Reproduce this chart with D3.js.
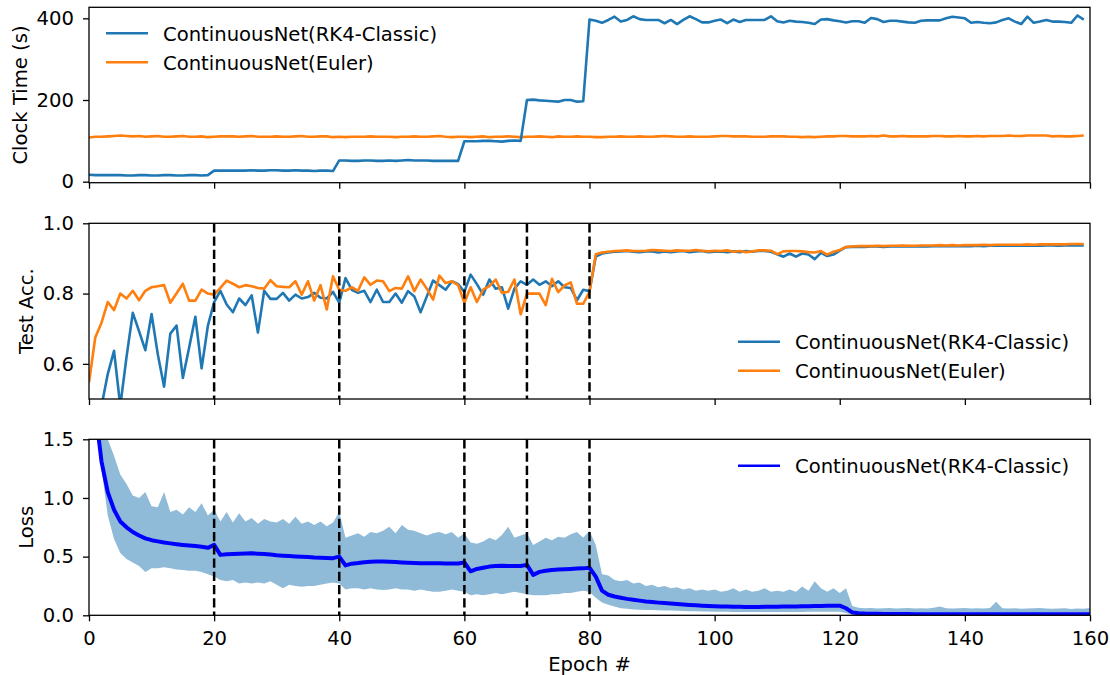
<!DOCTYPE html>
<html>
<head>
<meta charset="utf-8">
<script src="https://cdn.jsdelivr.net/npm/d3@7"></script>
<style>
  body { margin: 0; background: #fff; }
  svg text { font-family: "DejaVu Sans", sans-serif; fill: #000; }
</style>
</head>
<body>
<svg id="chart"></svg>
<script>
// ---- data ----
let epochs = d3.range(160);
let lossEpochs = d3.range(161);

let timeRK4 = [
  17,16,16,16,16,16,15,15,16,16, 15,15,16,16,15,15,16,16,15,16,
  27,27,27,27,27,27,28,27,27,28, 28,27,27,28,27,27,26,27,27,26,
  52,52,51,51,52,52,51,51,52,51, 52,53,52,52,52,51,51,51,51,51,
  99,99,99,100,100,99,98,100,101,100, 200,201,199,198,197,196,200,200,196,197,
  397,394,389,396,404,392,396,405,398,396, 396,396,388,396,386,396,405,398,390,390,
  394,397,388,397,391,396,396,396,396,405, 393,390,394,392,391,389,386,397,398,395,
  393,390,393,393,389,401,398,391,394,394, 392,390,389,394,395,395,395,400,404,402,
  400,389,391,389,388,390,396,400,392,386, 404,389,392,396,392,392,391,389,407,397
];
let timeEuler = [
  108,110,110,111,112,113,112,111,112,110, 111,112,110,110,111,112,110,110,111,109,
  110,111,111,111,110,111,112,110,110,110, 111,110,110,111,112,110,110,111,111,109,
  110,109,110,110,110,111,110,110,110,109, 110,110,111,110,110,111,112,110,109,110,
  110,109,110,111,109,110,110,111,110,109, 110,110,111,110,109,111,110,110,111,110,
  110,109,109,110,110,111,110,110,111,110, 110,111,112,111,110,110,111,110,110,110,
  111,112,112,111,111,111,110,110,110,111, 111,111,110,110,109,110,109,110,111,111,
  112,112,111,111,111,112,111,113,111,111, 112,111,111,111,111,112,112,111,111,112,
  111,111,112,111,112,112,112,113,112,112, 113,113,113,113,111,112,111,111,112,113
];

let accRK4 = [
  0.30,0.40,0.48,0.571,0.637,0.48,0.62,0.745,0.693,0.639,
  0.742,0.627,0.535,0.686,0.709,0.560,0.646,0.734,0.587,0.708,
  0.776,0.808,0.769,0.747,0.786,0.767,0.795,0.689,0.808,0.785,
  0.785,0.802,0.780,0.797,0.786,0.790,0.802,0.788,0.786,0.805,
  0.774,0.844,0.811,0.802,0.808,0.776,0.811,0.776,0.776,0.800,
  0.774,0.807,0.792,0.747,0.792,0.837,0.824,0.811,0.835,0.827,
  0.805,0.854,0.827,0.797,0.840,0.814,0.818,0.757,0.814,0.835,
  0.825,0.840,0.825,0.835,0.821,0.835,0.818,0.816,0.781,0.811,
  0.807,0.905,0.914,0.917,0.919,0.920,0.921,0.919,0.918,0.920,
  0.920,0.917,0.920,0.918,0.920,0.921,0.918,0.920,0.921,0.918,
  0.919,0.920,0.918,0.920,0.918,0.921,0.919,0.921,0.921,0.919,
  0.912,0.905,0.914,0.905,0.914,0.911,0.898,0.916,0.907,0.911,
  0.922,0.932,0.933,0.933,0.933,0.934,0.934,0.933,0.934,0.934,
  0.934,0.934,0.934,0.935,0.934,0.935,0.935,0.935,0.935,0.935,
  0.935,0.935,0.936,0.935,0.936,0.936,0.936,0.936,0.936,0.936,
  0.936,0.936,0.936,0.937,0.937,0.936,0.937,0.937,0.937,0.937
];
let accEuler = [
  0.547,0.675,0.717,0.776,0.753,0.800,0.786,0.808,0.781,0.808,
  0.818,0.821,0.824,0.774,0.801,0.828,0.780,0.780,0.811,0.800,
  0.797,0.816,0.837,0.828,0.818,0.824,0.821,0.816,0.814,0.838,
  0.821,0.819,0.818,0.835,0.797,0.835,0.780,0.824,0.755,0.849,
  0.811,0.808,0.818,0.808,0.846,0.825,0.837,0.835,0.807,0.816,
  0.814,0.849,0.807,0.840,0.814,0.783,0.851,0.830,0.835,0.824,
  0.774,0.818,0.776,0.811,0.821,0.840,0.802,0.805,0.840,0.741,
  0.800,0.800,0.800,0.767,0.842,0.804,0.823,0.832,0.771,0.771,
  0.805,0.912,0.917,0.919,0.921,0.922,0.923,0.921,0.921,0.922,
  0.924,0.923,0.922,0.921,0.923,0.922,0.922,0.924,0.922,0.920,
  0.922,0.921,0.923,0.919,0.921,0.918,0.920,0.923,0.923,0.922,
  0.912,0.920,0.921,0.921,0.920,0.918,0.917,0.921,0.911,0.919,
  0.924,0.933,0.934,0.935,0.935,0.935,0.936,0.935,0.936,0.936,
  0.937,0.936,0.936,0.937,0.937,0.937,0.938,0.937,0.938,0.937,
  0.938,0.938,0.938,0.939,0.938,0.939,0.939,0.939,0.939,0.939,
  0.940,0.939,0.940,0.940,0.940,0.940,0.940,0.941,0.941,0.941
];

let lossMean = [
  2.2,1.75,1.31,1.05,0.90,0.80,0.75,0.71,0.68,0.656,
  0.64,0.63,0.62,0.613,0.606,0.60,0.595,0.59,0.585,0.575,
  0.60,0.515,0.52,0.523,0.525,0.527,0.528,0.525,0.523,0.518,
  0.512,0.508,0.505,0.502,0.50,0.497,0.492,0.49,0.488,0.487,
  0.50,0.425,0.44,0.445,0.452,0.457,0.458,0.458,0.457,0.455,
  0.451,0.448,0.445,0.443,0.443,0.443,0.443,0.442,0.442,0.441,
  0.45,0.375,0.395,0.405,0.415,0.42,0.422,0.42,0.42,0.42,
  0.43,0.345,0.37,0.38,0.386,0.39,0.393,0.395,0.398,0.40,
  0.405,0.33,0.21,0.175,0.16,0.15,0.14,0.133,0.125,0.118,
  0.113,0.108,0.104,0.10,0.096,0.092,0.088,0.085,0.082,0.079,
  0.077,0.075,0.074,0.073,0.072,0.071,0.071,0.071,0.072,0.072,
  0.073,0.074,0.074,0.076,0.077,0.078,0.079,0.080,0.081,0.082,
  0.082,0.06,0.025,0.018,0.015,0.014,0.013,0.012,0.012,0.011,
  0.011,0.011,0.010,0.010,0.010,0.010,0.010,0.009,0.009,0.009,
  0.009,0.009,0.009,0.009,0.009,0.009,0.009,0.008,0.008,0.008,
  0.008,0.008,0.008,0.008,0.008,0.008,0.008,0.008,0.008,0.008,0.008
];
let lossHigh = [
  2.5,2.0,1.6,1.5,1.36,1.2,1.12,1.02,1.0,1.05,
  0.93,0.92,1.05,0.88,0.90,0.86,0.92,0.88,0.955,0.85,
  0.90,0.80,0.88,0.79,0.87,0.80,0.83,0.78,0.82,0.80,
  0.79,0.82,0.78,0.84,0.78,0.80,0.77,0.80,0.76,0.79,
  0.88,0.66,0.68,0.70,0.67,0.71,0.70,0.72,0.755,0.70,
  0.77,0.73,0.72,0.70,0.68,0.70,0.71,0.69,0.71,0.66,
  0.70,0.62,0.61,0.63,0.66,0.64,0.685,0.755,0.66,0.68,
  0.70,0.60,0.63,0.66,0.64,0.67,0.66,0.69,0.71,0.66,
  0.72,0.60,0.35,0.34,0.30,0.29,0.30,0.27,0.28,0.25,
  0.26,0.24,0.25,0.23,0.24,0.22,0.23,0.21,0.22,0.21,
  0.22,0.20,0.21,0.23,0.20,0.22,0.20,0.21,0.23,0.20,
  0.21,0.20,0.22,0.20,0.245,0.21,0.29,0.23,0.20,0.23,
  0.19,0.23,0.08,0.065,0.06,0.062,0.058,0.06,0.063,0.058,
  0.06,0.062,0.057,0.06,0.058,0.064,0.074,0.06,0.058,0.06,
  0.062,0.058,0.06,0.057,0.063,0.116,0.06,0.058,0.06,0.056,
  0.058,0.06,0.062,0.057,0.056,0.058,0.06,0.054,0.058,0.056,0.062
];
let lossLow = [
  2.0,1.7,1.25,0.85,0.65,0.53,0.48,0.45,0.42,0.37,
  0.40,0.40,0.41,0.40,0.39,0.386,0.38,0.38,0.37,0.35,
  0.33,0.30,0.29,0.30,0.27,0.28,0.27,0.28,0.27,0.29,
  0.26,0.23,0.26,0.25,0.244,0.25,0.25,0.26,0.27,0.28,
  0.27,0.22,0.23,0.23,0.22,0.23,0.22,0.216,0.22,0.23,
  0.22,0.22,0.21,0.22,0.21,0.20,0.20,0.21,0.22,0.21,
  0.20,0.17,0.18,0.17,0.18,0.19,0.18,0.19,0.20,0.19,
  0.18,0.17,0.17,0.17,0.18,0.18,0.19,0.19,0.20,0.21,
  0.20,0.15,0.11,0.09,0.075,0.06,0.055,0.05,0.048,0.046,
  0.045,0.043,0.041,0.040,0.038,0.036,0.035,0.034,0.033,0.032,
  0.031,0.030,0.030,0.029,0.029,0.028,0.028,0.028,0.028,0.028,
  0.028,0.028,0.028,0.029,0.029,0.030,0.030,0.030,0.031,0.031,
  0.031,0.02,0.005,0.003,0.003,0.003,0.003,0.003,0.003,0.003,
  0.003,0.003,0.003,0.003,0.003,0.003,0.003,0.003,0.003,0.003,
  0.003,0.003,0.003,0.003,0.003,0.003,0.003,0.003,0.003,0.003,
  0.003,0.003,0.003,0.003,0.003,0.003,0.003,0.003,0.003,0.003,0.003
];

let lrDrops = [20, 40, 60, 70, 80];
let xTicks = [0, 20, 40, 60, 80, 100, 120, 140, 160];
let timeTicks = [0, 200, 400];
let accTicks = [0.6, 0.8, 1.0];
let lossTicks = [0.0, 0.5, 1.0, 1.5];

let nameRK4 = "ContinuousNet(RK4-Classic)";
let nameEuler = "ContinuousNet(Euler)";

// ---- layout ----
let width = 1110;
let height = 675;
let fontSize = 19.6;
let blue = "#1f77b4";
let orange = "#ff7f0e";

let svg = d3.select("#chart")
  .attr("width", width)
  .attr("height", height);

let x = d3.scaleLinear().domain([0, 160]).range([89, 1090]);

let line = (yScale) => d3.line()
  .x(d => x(d[0]))
  .y(d => yScale(d[1]));

// draw one panel: axes, label, clip; returns y scale and clipped group
let drawPanel = (id, top, bottom, domain, ticks, fmt, label, labelX, showX) => {
  let y = d3.scaleLinear().domain(domain).range([bottom, top]);

  svg.append("clipPath").attr("id", id)
    .append("rect")
    .attr("x", x(0)).attr("y", top)
    .attr("width", x(160) - x(0)).attr("height", bottom - top);

  let yAxis = svg.append("g")
    .attr("transform", `translate(${x(0)},0)`)
    .call(d3.axisLeft(y).tickValues(ticks).tickFormat(fmt).tickSize(6).tickPadding(9));
  yAxis.select(".domain").remove();

  let xAxis = svg.append("g")
    .attr("transform", `translate(0,${bottom})`)
    .call(d3.axisBottom(x).tickValues(xTicks)
      .tickFormat(showX ? d3.format("d") : "")
      .tickSize(6).tickPadding(10));
  xAxis.select(".domain").remove();

  svg.selectAll(".tick line").attr("stroke", "#000").attr("stroke-width", 1.3);
  svg.selectAll(".tick text").attr("font-size", fontSize).attr("fill", "#000")
    .style("font-family", "DejaVu Sans");

  svg.append("text")
    .attr("transform", `translate(${labelX},${(top + bottom) / 2}) rotate(-90)`)
    .attr("text-anchor", "middle")
    .attr("font-size", fontSize)
    .text(label);

  let g = svg.append("g").attr("clip-path", `url(#${id})`);
  return { y, g, top, bottom };
}

let frame = (p) => {
  svg.append("rect")
    .attr("x", x(0)).attr("y", p.top)
    .attr("width", x(160) - x(0)).attr("height", p.bottom - p.top)
    .attr("fill", "none").attr("stroke", "#000").attr("stroke-width", 1.3);
}

let legend = (lx, ly, items) => {
  items.forEach((it, i) => {
    let yy = ly + i * 29;
    svg.append("line")
      .attr("x1", lx).attr("x2", lx + 42)
      .attr("y1", yy).attr("y2", yy)
      .attr("stroke", it.color).attr("stroke-width", 2.6);
    svg.append("text")
      .attr("x", lx + 57).attr("y", yy + 7.3)
      .attr("font-size", fontSize)
      .text(it.name);
  });
}

// dashed verticals at the learning-rate drops
let dashes = (p) => {
  p.g.selectAll(".drop").data(lrDrops).enter().append("line")
    .attr("x1", d => x(d)).attr("x2", d => x(d))
    .attr("y1", p.top).attr("y2", p.bottom)
    .attr("stroke", "#000").attr("stroke-width", 2.5)
    .attr("stroke-dasharray", "9.25,4");
}

// ---- panel 1: clock time ----
let p1 = drawPanel("clip1", 7.3, 182.7, [-2.5, 427], timeTicks, d3.format("d"), "Clock Time (s)", 26.5, false);
p1.g.append("path")
  .attr("d", line(p1.y)(epochs.map(i => [i, timeEuler[i]])))
  .attr("fill", "none").attr("stroke", orange).attr("stroke-width", 2.6)
  .attr("stroke-linejoin", "round");
p1.g.append("path")
  .attr("d", line(p1.y)(epochs.map(i => [i, timeRK4[i]])))
  .attr("fill", "none").attr("stroke", blue).attr("stroke-width", 2.6)
  .attr("stroke-linejoin", "round");
frame(p1);
legend(106, 33.3, [{ name: nameRK4, color: blue }, { name: nameEuler, color: orange }]);

// ---- panel 2: test accuracy ----
let p2 = drawPanel("clip2", 223.3, 399, [0.5, 1.0], accTicks, d3.format(".1f"), "Test Acc.", 33, false);
p2.g.append("path")
  .attr("d", line(p2.y)(epochs.map(i => [i, accRK4[i]])))
  .attr("fill", "none").attr("stroke", blue).attr("stroke-width", 2.6)
  .attr("stroke-linejoin", "round");
p2.g.append("path")
  .attr("d", line(p2.y)(epochs.map(i => [i, accEuler[i]])))
  .attr("fill", "none").attr("stroke", orange).attr("stroke-width", 2.6)
  .attr("stroke-linejoin", "round");
dashes(p2);
frame(p2);
legend(738, 341.7, [{ name: nameRK4, color: blue }, { name: nameEuler, color: orange }]);

// ---- panel 3: loss ----
let p3 = drawPanel("clip3", 439.3, 615.3, [0, 1.5], lossTicks, d3.format(".1f"), "Loss", 33, true);
let band = d3.area()
  .x(d => x(d))
  .y0(d => p3.y(lossLow[d]))
  .y1(d => p3.y(lossHigh[d]));
p3.g.append("path")
  .attr("d", band(lossEpochs))
  .attr("fill", "#8fbbd9");
p3.g.append("path")
  .attr("d", line(p3.y)(lossEpochs.map(i => [i, lossMean[i]])))
  .attr("fill", "none").attr("stroke", "#0000ff").attr("stroke-width", 4)
  .attr("stroke-linejoin", "round");
dashes(p3);
frame(p3);
legend(738, 465.7, [{ name: nameRK4, color: "#0000ff" }]);

svg.append("text")
  .attr("x", x(80)).attr("y", 671)
  .attr("text-anchor", "middle")
  .attr("font-size", fontSize)
  .text("Epoch #");
</script>
</body>
</html>
